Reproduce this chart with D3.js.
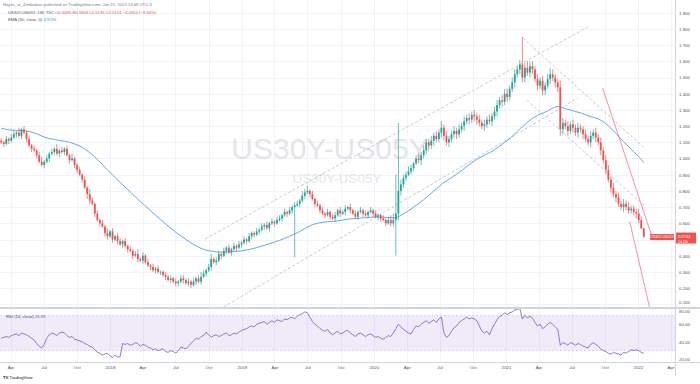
<!DOCTYPE html>
<html>
<head>
<meta charset="utf-8">
<script src="https://cdn.jsdelivr.net/npm/d3@7"></script>
<style>
  body { margin: 0; background: #fff; }
  svg { display: block; font-family: "Liberation Sans", Arial, sans-serif; }
</style>
</head>
<body>
<div id="chart"></div>
<script>
// weekly bars, first week starts 2017-03-06
var firstWeek = "2017-03-06";
var firstOpen = 1.11;

var closes = [
  1.10,1.09,1.12,1.11,1.13,1.15,1.16,1.14,1.18,1.16,
  1.12,1.08,1.06,1.05,1.02,0.98,0.96,0.98,1.00,1.03,
  1.04,1.06,1.03,1.05,1.04,1.06,1.02,0.99,1.00,0.96,
  0.93,0.90,0.87,0.82,0.78,0.74,0.72,0.66,0.62,0.60,
  0.58,0.54,0.52,0.55,0.50,0.52,0.49,0.47,0.49,0.46,
  0.44,0.43,0.40,0.41,0.38,0.37,0.40,0.36,0.34,0.33,
  0.31,0.32,0.30,0.30,0.28,0.27,0.25,0.26,0.24,0.23,
  0.24,0.26,0.25,0.23,0.24,0.22,0.24,0.26,0.24,0.27,
  0.29,0.31,0.33,0.38,0.36,0.37,0.41,0.40,0.43,0.45,
  0.42,0.44,0.46,0.45,0.47,0.48,0.50,0.49,0.52,0.54,
  0.53,0.55,0.56,0.58,0.59,0.57,0.60,0.61,0.60,0.62,
  0.63,0.65,0.67,0.66,0.68,0.70,0.71,0.72,0.74,0.77,
  0.79,0.80,0.78,0.75,0.72,0.71,0.68,0.66,0.65,0.67,
  0.64,0.63,0.65,0.68,0.66,0.67,0.69,0.70,0.68,0.66,
  0.64,0.67,0.68,0.66,0.65,0.67,0.68,0.66,0.64,0.65,
  0.63,0.62,0.60,0.62,0.60,0.62,0.66,0.80,0.84,0.88,
  0.90,0.92,0.94,0.97,1.00,0.99,1.02,1.05,1.10,1.08,
  1.11,1.14,1.12,1.16,1.19,1.14,1.10,1.12,1.15,1.17,
  1.15,1.18,1.20,1.23,1.25,1.24,1.27,1.26,1.24,1.22,
  1.20,1.21,1.24,1.23,1.26,1.29,1.33,1.36,1.35,1.40,
  1.38,1.43,1.47,1.52,1.55,1.58,1.50,1.56,1.53,1.57,
  1.55,1.49,1.45,1.48,1.42,1.45,1.49,1.52,1.50,1.47,
  1.44,1.18,1.22,1.20,1.17,1.21,1.19,1.16,1.19,1.18,
  1.15,1.12,1.10,1.14,1.16,1.13,1.10,1.05,0.99,0.93,
  0.87,0.82,0.78,0.76,0.72,0.70,0.72,0.70,0.68,0.69,
  0.67,0.66,0.62,0.5695,0.5151
];

// wick lengths above / below the body, in hundredths
var wickUp = [
  2,1,2,1,2,2,1,3,1,2, 1,2,1,2,1,2,3,1,2,1, 2,1,3,1,2,1,2,1,3,1, 1,2,1,2,1,3,2,1,2,1,
  2,1,3,1,2,1,2,2,1,2, 1,2,1,2,3,1,2,1,2,1, 2,1,2,1,1,2,1,2,1,2, 1,2,2,1,2,1,2,1,2,3,
  2,1,2,3,1,2,2,1,2,1, 2,1,2,1,2,1,2,1,2,1, 1,2,1,2,1,2,1,2,1,2, 2,1,2,1,2,1,2,2,1,3,
  2,3,1,2,1,2,1,2,1,2, 1,2,2,1,2,1,2,1,2,1, 2,1,2,1,2,1,2,1,2,1, 1,2,1,2,3,4,24,42,3,2,
  2,3,2,1,2,3,2,3,2,2, 3,2,3,2,4,2,3,2,2,3, 2,3,2,3,2,3,2,3,2,3, 2,3,2,3,2,3,3,2,3,3,
  3,2,3,3,2,3,17,3,4,3, 3,2,3,2,3,2,3,4,3,2, 2,4,3,2,3,2,3,2,3,2, 2,3,2,3,2,3,2,3,2,3,
  3,2,3,2,3,2,3,2,3,2, 2,2,3,2.14,0
];
var wickDn = [
  1,2,1,2,1,1,2,1,2,1, 2,1,2,1,2,1,1,2,1,2, 1,2,1,2,1,2,1,2,1,2, 2,1,2,1,3,2,1,2,1,2,
  1,2,2,1,2,1,2,1,2,1, 2,1,2,1,2,1,2,1,1,2, 1,2,1,2,1,2,1,2,1,2, 2,1,2,1,2,2,1,2,1,2,
  1,2,1,2,1,2,1,2,1,2, 1,2,1,2,1,2,1,2,1,2, 2,1,2,1,2,1,2,1,2,1, 1,2,1,2,1,2,31,1,2,1,
  2,1,2,1,2,1,2,1,2,1, 2,1,2,1,2,1,2,1,2,1, 1,2,1,2,1,2,1,2,1,2, 2,1,2,1,2,2,22,4,3,2,
  2,1,2,2,1,2,3,2,2,3, 2,3,2,2,3,3,2,3,2,2, 3,2,2,3,2,3,2,3,3,2, 2,3,2,2,3,2,3,2,3,2,
  3,2,2,3,2,3,3,3,2,3, 3,2,3,2,3,3,2,3,2,3, 3,4,3,2,3,2,3,2,3,2, 3,2,2,3,2,3,2,3,2,3,
  2,3,2,3,2,2,3,2,2,2, 2,3,2,0.6,0.16
];

// RSI (14, close), one value per week
var rsiValues = [
  44,45,46,45,47,48,49,47,50,49, 48,46,44,42,38,35,33,37,44,48,
  50,49,47,50,51,50,47,45,46,43, 42,41,40,38,37,35,34,31,28,27,
  25,26,27,24,22,25,23,23,38,37, 38,36,37,39,38,35,37,36,34,33,
  31,32,30,31,32,29,28,30,29,27, 30,34,33,32,35,38,41,44,43,46,
  47,51,48,45,47,48,46,47,49,50, 47,48,50,49,51,53,54,55,57,58,
  57,60,61,62,63,60,62,64,62,65, 64,63,66,65,67,68,66,69,71,72,
  74,73,68,63,60,58,55,53,52,54, 50,48,50,52,49,50,52,53,50,48,
  46,49,50,48,46,48,49,47,45,46, 44,43,45,47,46,50,55,60,57,54,
  52,50,49,54,58,57,60,62,64,61, 63,65,62,66,68,50,45,47,52,56,
  58,62,64,66,68,66,67,66,64,58, 52,50,52,48,55,60,65,69,70,73,
  71,73,74,76,77,78,66,70,67,69, 67,62,58,60,55,57,60,62,60,57,
  54,36,39,38,36,39,38,36,38,37, 35,34,33,37,39,37,35,32,30,29,
  27,26,28,27,26,25,28,27,29,31, 30,31,30,28,26.95
];

var emaSeed = 1.19;

var priceTicks = [0.1,0.2,0.3,0.4,0.5,0.6,0.7,0.8,0.9,1.0,1.1,1.2,1.3,1.4,1.5,1.6,1.7,1.8,1.9];
var rsiTicks = [80, 60, 40, 20];
var xTickDates = ["2017-04-01","2017-07-01","2017-10-01","2018-01-01","2018-04-01","2018-07-01","2018-10-01",
  "2019-01-01","2019-04-01","2019-07-01","2019-10-01","2020-01-01","2020-04-01","2020-07-01","2020-10-01",
  "2021-01-01","2021-04-01","2021-07-01","2021-10-01","2022-01-01","2022-04-01"];
var xTickLabels = ["Apr","Jul","Oct","2018","Apr","Jul","Oct","2019","Apr","Jul","Oct","2020","Apr","Jul","Oct",
  "2021","Apr","Jul","Oct","2022","Apr"];

// drawn trend lines: [date, value] pairs
var dashedLines = [
  [["2018-09-21", 0.503], ["2021-08-20", 1.818]],
  [["2018-10-18", 0.052], ["2021-07-18", 1.373]],
  [["2021-02-16", 1.744], ["2022-01-19", 1.065]],
  [["2021-02-27", 1.361], ["2022-01-19", 0.707]]
];
var redLines = [
  [["2021-09-25", 1.435], ["2022-02-10", 0.509]],
  [["2021-12-09", 0.611], ["2022-02-05", 0.052]]
];

var w = 700, h = 384;
var plotR = 675, mainB = 308, rsiB = 362;
var up = "#26a69a", dn = "#ef5350";
var parse = d3.timeParse("%Y-%m-%d");

var svg = d3.select("#chart").append("svg").attr("width", w).attr("height", h);

var x = d3.scaleTime().domain([parse("2018-01-01"), parse("2022-01-01")]).range([110, 638]);
var y = d3.scaleLinear().domain([0.5, 1.9]).range([239.5, 12.7]);
var ry = d3.scaleLinear().domain([30, 70]).range([350.6, 315.4]);

// build bars
var start = parse(firstWeek);
var bars = closes.map(function(c, i) {
  var o = i == 0 ? firstOpen : closes[i - 1];
  return {
    date: d3.timeDay.offset(start, 7 * i),
    o: o, c: c,
    h: Math.max(o, c) + wickUp[i] / 100,
    l: Math.min(o, c) - wickDn[i] / 100
  };
});

// EMA 50
var k = 2 / 51, ema = [], prev = emaSeed;
bars.forEach(function(b) { prev = k * b.c + (1 - k) * prev; ema.push({date: b.date, v: prev}); });

var rsi = rsiValues.map(function(v, i) { return {date: bars[i].date, v: v}; });

var defs = svg.append("defs");
defs.append("clipPath").attr("id", "clipMain").append("rect").attr("x", 0).attr("y", 0).attr("width", plotR).attr("height", mainB - 1);
defs.append("clipPath").attr("id", "clipRsi").append("rect").attr("x", 0).attr("y", mainB + 1).attr("width", plotR).attr("height", rsiB - mainB - 2);

// grid
var grid = svg.append("g").attr("stroke", "#f0f3fa").attr("stroke-width", 1);
grid.selectAll(".vg").data(xTickDates).enter().append("line")
  .attr("x1", function(d) { return Math.round(x(parse(d))) + 0.5; })
  .attr("x2", function(d) { return Math.round(x(parse(d))) + 0.5; })
  .attr("y1", 0).attr("y2", rsiB);
grid.selectAll(".hg").data(priceTicks).enter().append("line")
  .attr("x1", 0).attr("x2", plotR)
  .attr("y1", function(d) { return Math.round(y(d)) + 0.5; })
  .attr("y2", function(d) { return Math.round(y(d)) + 0.5; });

// watermark
svg.append("text").attr("x", 330).attr("y", 159).attr("text-anchor", "middle")
  .attr("font-size", 30).attr("fill", "#d8dae0").attr("fill-opacity", 0.7).text("US30Y-US05Y");
svg.append("text").attr("x", 337).attr("y", 183).attr("text-anchor", "middle")
  .attr("font-size", 13.5).attr("fill", "#d8dae0").attr("fill-opacity", 0.7).text("US30Y-US05Y");

var main = svg.append("g").attr("clip-path", "url(#clipMain)");

var line = d3.line().x(function(d) { return x(parse(d[0])); }).y(function(d) { return y(d[1]); });
main.selectAll(".dl").data(dashedLines).enter().append("path")
  .attr("d", line).attr("fill", "none").attr("stroke", "#b8bbc4")
  .attr("stroke-width", 0.8).attr("stroke-dasharray", "3,2");
main.selectAll(".rl").data(redLines).enter().append("path")
  .attr("d", line).attr("fill", "none").attr("stroke", "#f5868c").attr("stroke-width", 0.9);

// EMA
main.append("path").datum(ema)
  .attr("d", d3.line().x(function(d) { return x(d.date); }).y(function(d) { return y(d.v); }))
  .attr("fill", "none").attr("stroke", "#4f9ce8").attr("stroke-width", 0.9);

// candles
var candle = main.selectAll(".bar").data(bars).enter().append("g");
candle.append("line")
  .attr("x1", function(d) { return x(d.date); }).attr("x2", function(d) { return x(d.date); })
  .attr("y1", function(d) { return y(d.h); }).attr("y2", function(d) { return y(d.l); })
  .attr("stroke", function(d) { return d.c >= d.o ? up : dn; }).attr("stroke-width", 0.7);
candle.append("rect")
  .attr("x", function(d) { return x(d.date) - 0.9; }).attr("width", 1.8)
  .attr("y", function(d) { return y(Math.max(d.o, d.c)); })
  .attr("height", function(d) { return Math.max(0.6, Math.abs(y(d.o) - y(d.c))); })
  .attr("fill", function(d) { return d.c >= d.o ? up : dn; });

// RSI panel
var rp = svg.append("g").attr("clip-path", "url(#clipRsi)");
rp.append("rect").attr("x", 0).attr("width", plotR)
  .attr("y", ry(70)).attr("height", ry(30) - ry(70)).attr("fill", "#7e57c2").attr("fill-opacity", 0.12);
rp.selectAll(".rb").data([70, 30]).enter().append("line")
  .attr("x1", 0).attr("x2", plotR).attr("y1", function(d) { return ry(d); }).attr("y2", function(d) { return ry(d); })
  .attr("stroke", "#c9c0dc").attr("stroke-width", 0.6).attr("stroke-dasharray", "2,2");
rp.append("path").datum(rsi)
  .attr("d", d3.line().x(function(d) { return x(d.date); }).y(function(d) { return ry(d.v); }))
  .attr("fill", "none").attr("stroke", "#7e57c2").attr("stroke-width", 0.8);

// separators
svg.append("line").attr("x1", 0).attr("x2", w).attr("y1", mainB).attr("y2", mainB).attr("stroke", "#d1d4dc").attr("stroke-width", 2);
svg.append("line").attr("x1", 0).attr("x2", w).attr("y1", rsiB + 0.5).attr("y2", rsiB + 0.5).attr("stroke", "#d1d4dc").attr("stroke-width", 1);
svg.append("line").attr("x1", plotR + 0.5).attr("x2", plotR + 0.5).attr("y1", 0).attr("y2", h - 8).attr("stroke", "#d1d4dc").attr("stroke-width", 1);

var last = bars[bars.length - 1];
var ly = y(last.c);

// price axis (label under the last price box is hidden)
var fmt3 = d3.format(".3f"), fmt2 = d3.format(".2f");
var pa = svg.append("g").attr("transform", "translate(" + plotR + ",0)")
  .call(d3.axisRight(y).tickValues(priceTicks.filter(function(d) { return Math.abs(y(d) - ly) > 7; }))
    .tickFormat(fmt3).tickSize(0).tickPadding(4));
pa.select(".domain").remove();
pa.selectAll("text").attr("font-size", 4.4).attr("fill", "#50535e");
pa.selectAll(".tick").filter(function(d) { return y(d) > 300; }).attr("transform", function(d) { return "translate(0," + (y(d) - 1.5) + ")"; });

var ra = svg.append("g").attr("transform", "translate(" + plotR + ",0)")
  .call(d3.axisRight(ry).tickValues(rsiTicks).tickFormat(fmt2).tickSize(0).tickPadding(4));
ra.select(".domain").remove();
ra.selectAll("text").attr("font-size", 4.4).attr("fill", "#50535e");
ra.selectAll(".tick").filter(function(d) { return ry(d) < 311; }).attr("transform", "translate(0,311.5)");

// time axis
var xa = svg.append("g").attr("transform", "translate(0," + rsiB + ")")
  .call(d3.axisBottom(x).tickValues(xTickDates.map(parse))
    .tickFormat(function(d, i) { return xTickLabels[i]; }).tickSize(0).tickPadding(4));
xa.select(".domain").remove();
xa.selectAll("text").attr("font-size", 4.4).attr("fill", "#50535e");

// last price labels
svg.append("rect").attr("x", 650).attr("y", ly - 3).attr("width", 24).attr("height", 6).attr("fill", dn);
svg.append("text").attr("x", 662).attr("y", ly + 1.4).attr("text-anchor", "middle").attr("font-size", 3.6)
  .attr("fill", "#fff").text("US30Y-US05Y");
svg.append("rect").attr("x", plotR + 1).attr("y", ly - 4.5).attr("width", 20).attr("height", 11).attr("fill", dn);
svg.append("text").attr("x", plotR + 3).attr("y", ly + 0.8).attr("font-size", 4.2).attr("fill", "#fff").text(d3.format(".4f")(last.c));
svg.append("text").attr("x", plotR + 3).attr("y", ly + 5.6).attr("font-size", 3.4).attr("fill", "#fff").text("1d 11h");

// header
var hd = svg.append("g").attr("font-size", 4.2);
hd.append("text").attr("x", 3).attr("y", 5.8).attr("fill", "#787b86")
  .text("Hayes_at_Zimbabwe published on TradingView.com, Jan 21, 2022 13:48 UTC-5");
var t2 = hd.append("text").attr("x", 8).attr("y", 14).attr("fill", "#50535e");
t2.append("tspan").text("US30Y-US05Y, 1W, TVC  ");
t2.append("tspan").attr("fill", dn).text("O0.5695  H0.5909  L0.5135  C" + d3.format(".4f")(last.c) + "  \u22120.0550 (\u22129.66%)");
var t3 = hd.append("text").attr("x", 8).attr("y", 20.5).attr("fill", "#50535e");
t3.append("tspan").text("EMA (50, close, 0)  ");
t3.append("tspan").attr("fill", "#2196f3").text(d3.format(".4f")(ema[ema.length - 1].v));

var t4 = svg.append("text").attr("x", 6).attr("y", 318).attr("font-size", 4.2).attr("fill", "#50535e");
t4.append("tspan").text("RSI (14, close)  ");
t4.append("tspan").attr("fill", "#7e57c2").text(d3.format(".2f")(rsi[rsi.length - 1].v));

// footer logo
var ft = svg.append("text").attr("x", 3).attr("y", 379).attr("font-size", 4.2).attr("fill", "#131722");
ft.append("tspan").attr("font-weight", "bold").text("TV ");
ft.append("tspan").text("TradingView");
</script>
</body>
</html>
